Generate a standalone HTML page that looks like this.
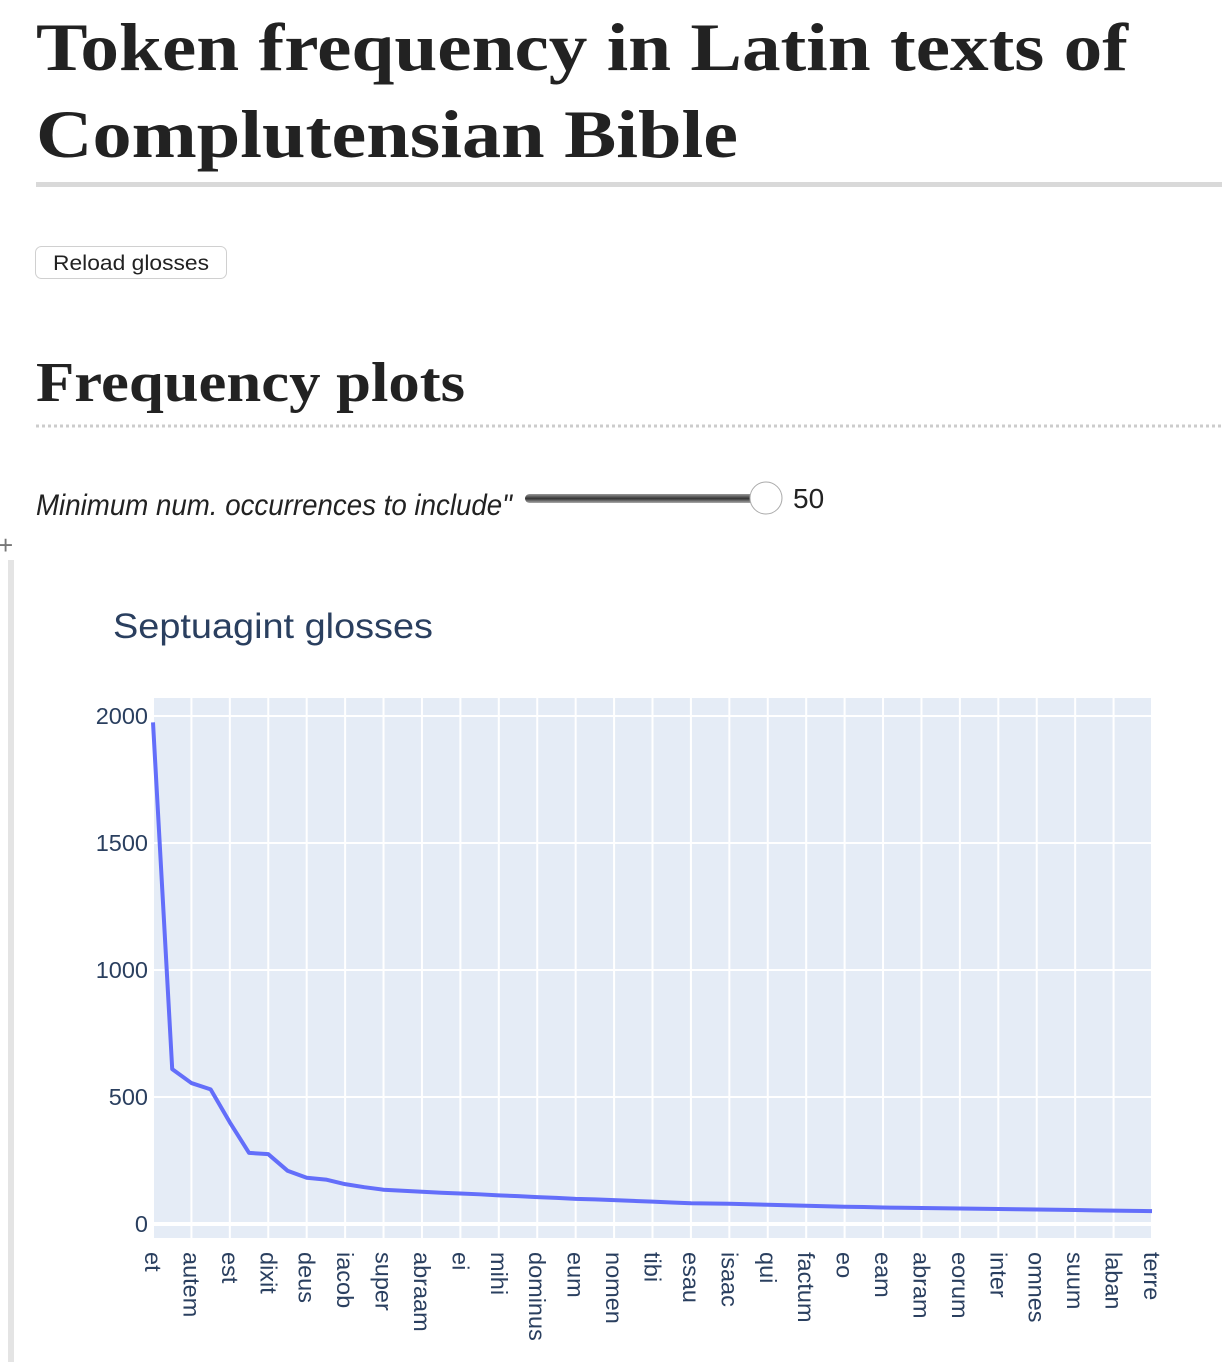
<!DOCTYPE html>
<html><head><meta charset="utf-8"><style>
html,body{margin:0;padding:0;background:#fff;width:1222px;height:1362px;overflow:hidden}
svg{display:block}
</style></head><body>
<svg width="1222" height="1362">
<defs><linearGradient id="trk" x1="0" y1="0" x2="0" y2="1"><stop offset="0" stop-color="#999"/><stop offset="0.5" stop-color="#333"/><stop offset="1" stop-color="#aaa"/></linearGradient></defs>
<text x="36" y="70" font-family="Liberation Serif, serif" font-weight="bold" font-size="68" fill="#222" textLength="1092" lengthAdjust="spacingAndGlyphs">Token frequency in Latin texts of</text>
<text x="36" y="157" font-family="Liberation Serif, serif" font-weight="bold" font-size="68" fill="#222" textLength="702" lengthAdjust="spacingAndGlyphs">Complutensian Bible</text>
<rect x="36" y="182" width="1186" height="5" fill="#d9d9d9"/>
<g>
<rect x="35.5" y="246.5" width="191" height="32" rx="6" fill="#fff" stroke="#d0d0d0"/>
<text x="131" y="270" text-anchor="middle" font-family="Liberation Sans, sans-serif" font-size="21" fill="#222" textLength="156" lengthAdjust="spacingAndGlyphs">Reload glosses</text>
</g>
<text x="36" y="401" font-family="Liberation Serif, serif" font-weight="bold" font-size="56" fill="#222" textLength="429" lengthAdjust="spacingAndGlyphs">Frequency plots</text>
<line x1="36" y1="426" x2="1222" y2="426" stroke="#ccc" stroke-width="3" stroke-dasharray="3,3"/>
<text x="36" y="515" font-family="Liberation Sans Narrow, Liberation Sans, sans-serif" font-style="italic" font-size="30" fill="#222" textLength="476" lengthAdjust="spacingAndGlyphs">Minimum num. occurrences to include"</text>
<rect x="525" y="494" width="240" height="9" rx="4.5" fill="url(#trk)"/>
<circle cx="766" cy="498" r="16" fill="#fff" stroke="#aaa"/>
<text x="793" y="508" font-family="Liberation Sans, sans-serif" font-size="28" fill="#222">50</text>
<text x="-2" y="554" font-family="Liberation Sans, sans-serif" font-size="26" fill="#777">+</text>
<rect x="8" y="560" width="6" height="802" fill="#e4e4e4"/>
<text x="113" y="638" font-family="Liberation Sans, sans-serif" font-size="35" fill="#2a3f5f" textLength="320" lengthAdjust="spacingAndGlyphs">Septuagint glosses</text>
<g id="chart"></g>
</svg>
<script>
const categories=["et","in","autem","ad","est","non","dixit","de","deus","cum","iacob","terram","super","filii","abraam","ut","ei","filius","mihi","quod","dominus","me","eum","ego","nomen","eius","tibi","te","esau","sunt","isaac","pater","qui","eos","factum","patris","eo","fuit","eam","annos","abram","dies","eorum","filios","inter","ioseph","omnes","domum","suum","hoc","laban","se","terre"];
const values=[1975,610,555,530,400,280,275,210,182,175,157,145,135,131,127,123,120,117,113,110,106,103,99,97,94,91,88,85,82,81,80,78,76,74,72,70,68,67,65,64,63,62,61,60,59,58,57,56,55,54,53,52,51];
const yTicks=[0,500,1000,1500,2000];
const NS="http://www.w3.org/2000/svg";
const g=document.getElementById('chart');
const L=153,R=1152,T=698,B=1238;
const yMin=-55,yMax=2071;
const xs=i=>L+(R-L)*i/(categories.length-1);
const ys=v=>B-(v-yMin)/(yMax-yMin)*(B-T);
function mk(tag,a){const e=document.createElementNS(NS,tag);for(const k in a)e.setAttribute(k,a[k]);g.appendChild(e);return e;}
const bg=mk('rect',{x:L,y:T,width:R-L,height:B-T,fill:'#e5ecf6'});


categories.forEach((c,i)=>{
  if(i%2)return;
  const gl=mk('line',{x1:xs(i),x2:xs(i),y1:T,y2:B,stroke:'#fff','stroke-width':2});
  
  
  const t=mk('text',{transform:`translate(${xs(i)-8},1252) rotate(90)`,'font-family':'Liberation Sans, sans-serif','font-size':23.5,fill:'#2a3f5f'});
  t.textContent=c;
  
  
});
yTicks.forEach(v=>{
  const gl=mk('line',{x1:L,x2:R,y1:ys(v),y2:ys(v),stroke:'#fff','stroke-width':v===0?4:2});
  
  
  const t=mk('text',{x:148,y:ys(v)+8,'text-anchor':'end','font-family':'Liberation Sans, sans-serif','font-size':23.5,fill:'#2a3f5f'});
  t.textContent=v;
  
  
});
const p=mk('polyline',{points:values.map((v,i)=>xs(i)+','+ys(v)).join(' '),fill:'none',stroke:'#636efa','stroke-width':4,'stroke-linejoin':'round'});


</script>
</body></html>
